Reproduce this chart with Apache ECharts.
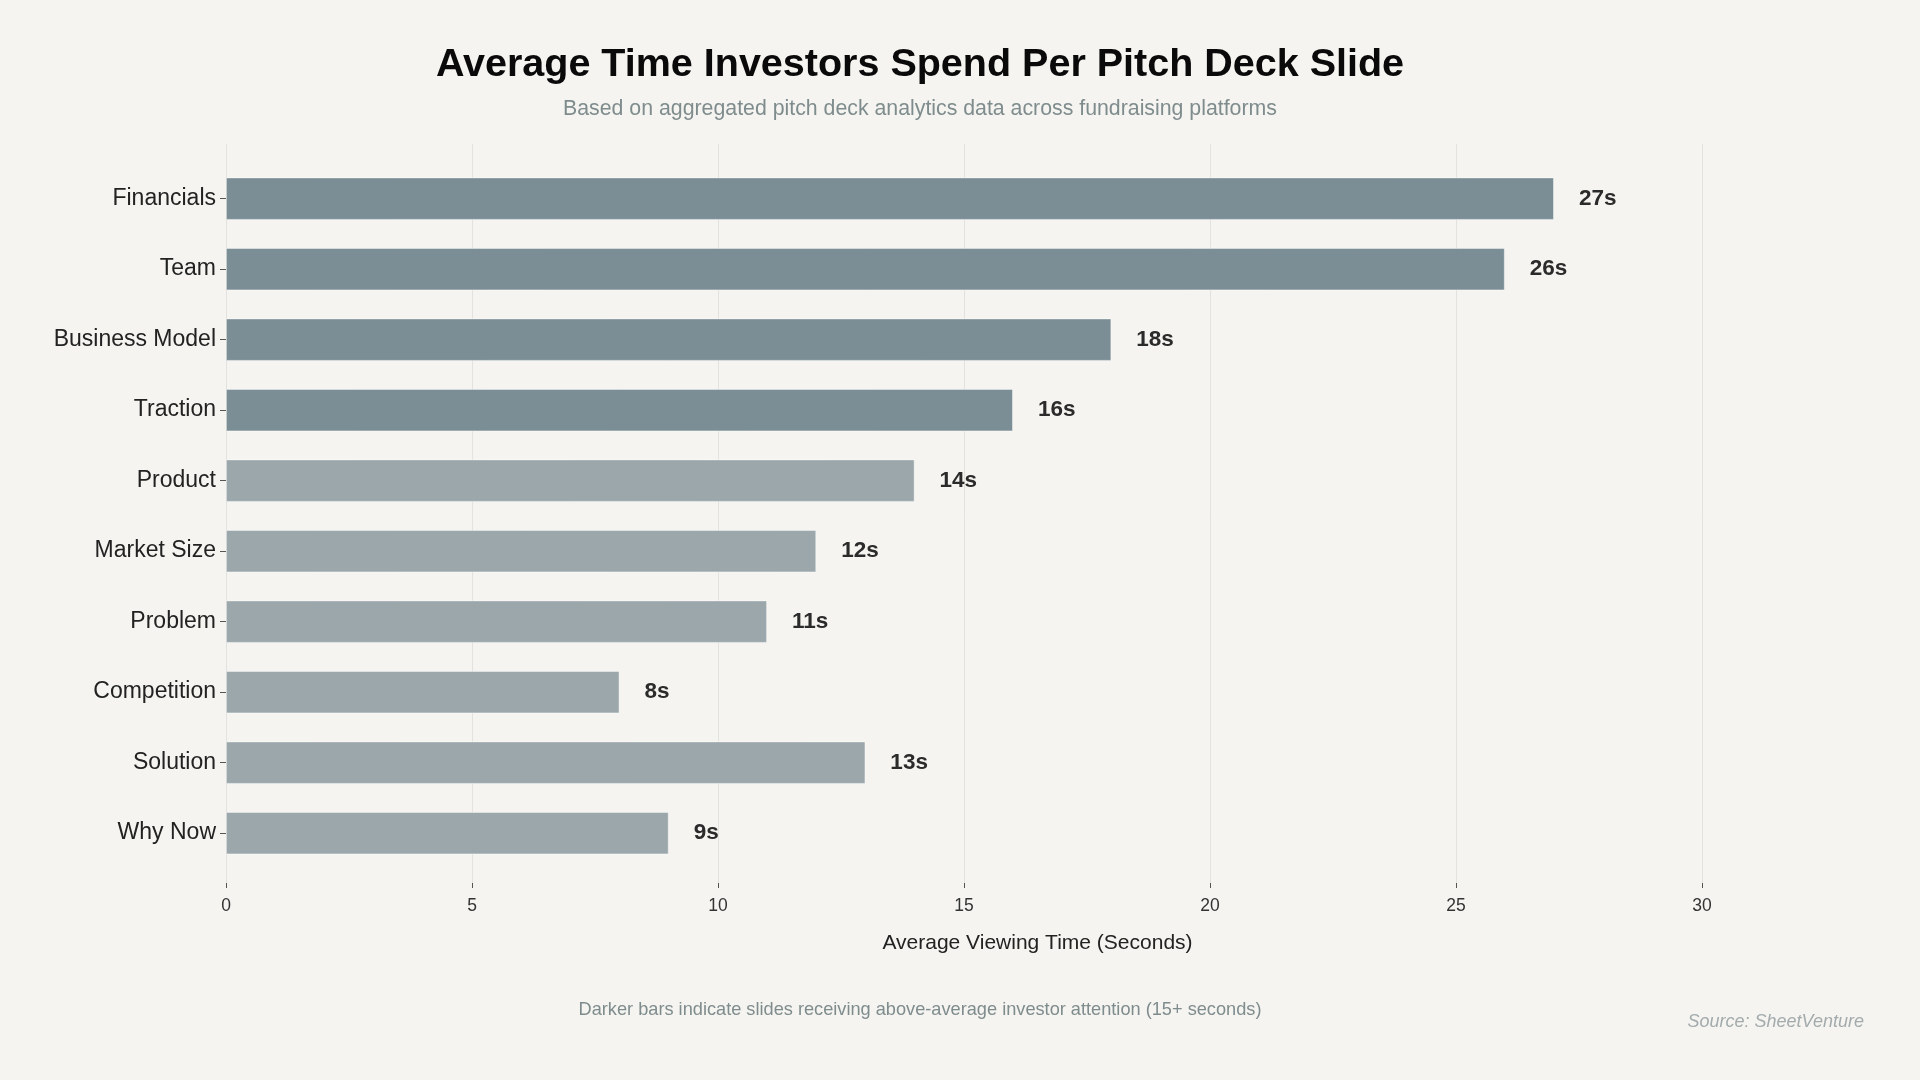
<!DOCTYPE html>
<html>
<head>
<meta charset="utf-8">
<script src="https://cdn.jsdelivr.net/npm/echarts@6/dist/echarts.min.js"></script>
<style>
html,body{margin:0;padding:0;background:#f5f4f0;}
#chart{width:1920px;height:1080px;}
</style>
</head>
<body>
<div id="chart"></div>
<script>
const categories = ['Financials','Team','Business Model','Traction','Product','Market Size','Problem','Competition','Solution','Why Now'];
const values = [27, 26, 18, 16, 14, 12, 11, 8, 13, 9];
const threshold = 15;
const xTicks = [0, 5, 10, 15, 20, 25, 30];

const titleText = 'Average Time Investors Spend Per Pitch Deck Slide';
const subtitleText = 'Based on aggregated pitch deck analytics data across fundraising platforms';
const footnoteText = 'Darker bars indicate slides receiving above-average investor attention (15+ seconds)';
const sourceText = 'Source: SheetVenture';
const axisName = 'Average Viewing Time (Seconds)';

const DARK = '#7b8e95';
const LIGHT = '#9ba7ab';
const FONT = '"Liberation Sans", Arial, sans-serif';

const chart = echarts.init(document.getElementById('chart'), null, {renderer: 'canvas'});

const barData = values.map(v => ({
  value: v,
  itemStyle: {color: v >= threshold ? DARK : LIGHT}
}));

const option = {
  backgroundColor: '#f5f4f0',
  animation: false,
  textStyle: {fontFamily: FONT},
  title: [
    {text: titleText, left: 920, textAlign: 'center', top: 45, padding: 0,
     textStyle: {fontFamily: FONT, fontSize: 39.5, fontWeight: 'bold', color: '#0a0a0a', lineHeight: 40}},
    {text: subtitleText, left: 920, textAlign: 'center', top: 97.5, padding: 0,
     textStyle: {fontFamily: FONT, fontSize: 21.3, fontWeight: 'normal', color: '#7f8c8d', lineHeight: 23}},
    {text: footnoteText, left: 920, textAlign: 'center', top: 1000, padding: 0,
     textStyle: {fontFamily: FONT, fontSize: 18.2, fontWeight: 'normal', color: '#7f8c8d', lineHeight: 19}},
    {text: sourceText, right: 56, top: 1012, padding: 0,
     textStyle: {fontFamily: FONT, fontSize: 18, fontWeight: 'normal', fontStyle: 'italic', color: '#a3abad', lineHeight: 19}}
  ],
  grid: [
    {left: 226, right: 218, top: 144, bottom: 197, containLabel: false},
    {left: 226, right: 71, top: 163.4, bottom: 211.6, containLabel: false}
  ],
  xAxis: [
    {
      gridIndex: 0, type: 'value', min: xTicks[0], max: xTicks[xTicks.length - 1], interval: 5,
      offset: 5,
      axisLine: {show: false},
      axisTick: {show: true, length: 5, lineStyle: {color: '#555555', width: 1}},
      axisLabel: {show: true, margin: 9, fontSize: 17.5, color: '#333333', fontFamily: FONT},
      splitLine: {show: true, lineStyle: {color: '#e2e2de', width: 1}}
    },
    {
      gridIndex: 1, type: 'value', min: 0, max: 33,
      axisLine: {show: false}, axisTick: {show: false}, axisLabel: {show: false}, splitLine: {show: false},
      name: axisName, nameLocation: 'middle', nameGap: 64,
      nameTextStyle: {fontSize: 21, color: '#222222', fontFamily: FONT}
    }
  ],
  yAxis: [
    {gridIndex: 0, type: 'value', min: 0, max: 1, show: false},
    {
      gridIndex: 1, type: 'category', data: categories, inverse: true,
      axisLine: {show: false},
      axisTick: {show: true, alignWithLabel: true, length: 6, lineStyle: {color: '#555555', width: 1}},
      axisLabel: {margin: 10, fontSize: 23, color: '#222222', fontFamily: FONT, padding: [3, 0, 0, 0]},
      splitLine: {show: false}
    }
  ],
  series: [
    {
      type: 'bar', xAxisIndex: 1, yAxisIndex: 1,
      data: barData,
      barWidth: '60%',
      itemStyle: {borderColor: 'rgba(255,255,255,0.55)', borderWidth: 0.8},
      label: {
        show: true, position: 'right', distance: 25,
        formatter: p => p.value + 's',
        fontSize: 22.5, fontWeight: 'bold', color: '#2b2b2b', fontFamily: FONT
      }
    }
  ]
};
chart.setOption(option);
</script>
</body>
</html>
